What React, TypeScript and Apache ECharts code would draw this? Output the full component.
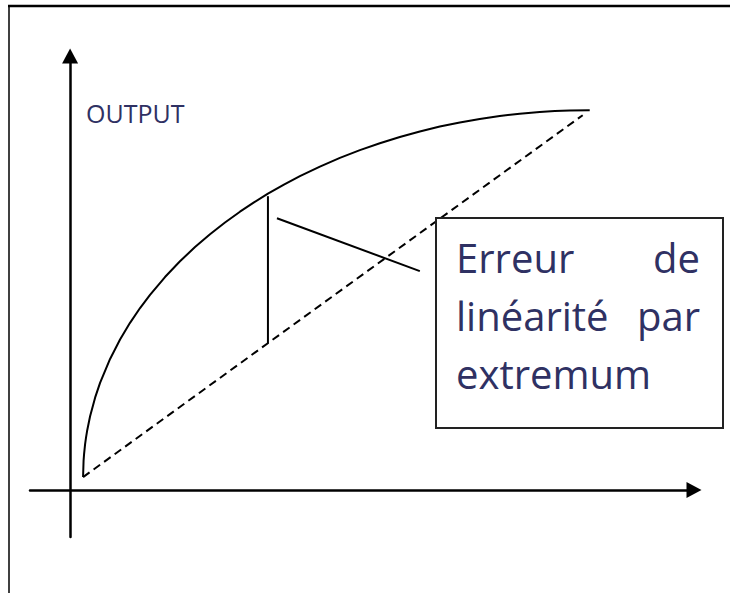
import React, { useEffect, useRef } from "react";
import * as echarts from "echarts";

// Curve (INPUT units on x, OUTPUT units on y)
const curveInput = [2.59, 2.69, 2.79, 2.99, 3.19, 3.39, 3.99, 4.99, 5.98, 7.98, 9.97, 11.96, 13.96, 15.95, 18.94, 21.93, 24.93, 27.92, 30.91, 33.9, 36.69, 39.48, 42.67, 45.86, 49.85, 53.84, 57.83, 61.81, 65.8, 69.79, 73.78, 77.77, 81.75, 85.74, 89.73, 93.72, 96.71, 99.7, 103.69];
const curveOutput = [2.66, 5.99, 7.36, 9.33, 10.82, 12.07, 15.09, 18.9, 21.92, 26.83, 30.8, 34.21, 37.24, 39.94, 43.58, 46.81, 49.71, 52.35, 54.74, 56.95, 58.85, 60.63, 62.5, 64.21, 66.18, 67.96, 69.55, 70.96, 72.23, 73.37, 74.36, 75.19, 75.93, 76.52, 76.99, 77.34, 77.53, 77.65, 77.71];

// Straight line joining the extremities (dashed)
const lineInput = [2.59, 102.29];
const lineOutput = [2.66, 76.69];

// Vertical segment showing the maximal deviation
const errorInput = [39.48, 39.48];
const errorOutput = [60.12, 30.06];

// Pointer from the annotation box to the error
const pointerInput = [41.28, 69.79];
const pointerOutput = [55.62, 44.79];

const axisTitle = "OUTPUT";
const boxLines = [
  ["Erreur", "de"],
  ["linéarité", "par"],
  ["extremum", ""],
];

const zip = (xs: number[], ys: number[]) => xs.map((x, i) => [x, ys[i]]);

export default function App() {
  const ref = useRef<HTMLDivElement>(null);
  useEffect(() => {
    if (!ref.current) return;
    const chart = echarts.init(ref.current, null, { renderer: "svg" });
    const textColor = "#2f3163";
    const font = "Open Sans";
    const boxTextY = [257, 315, 373];
    const graphics: any[] = [
      // frame
      { type: "line", z: 100, shape: { x1: 8, y1: 6, x2: 730, y2: 6 }, style: { stroke: "#000", lineWidth: 2.5 } },
      { type: "line", z: 100, shape: { x1: 9, y1: 5, x2: 9, y2: 593 }, style: { stroke: "#000", lineWidth: 1.5 } },
      // axis title
      {
        type: "text", z: 100, x: 86, y: 113,
        style: { text: axisTitle, fill: textColor, font: `25px "${font}"`, verticalAlign: "middle", align: "left" },
      },
      // annotation box
      {
        type: "rect", z: 100, shape: { x: 436, y: 218, width: 287, height: 210 },
        style: { fill: "#fff", stroke: "#222", lineWidth: 2 },
      },
    ];
    boxLines.forEach((pair, i) => {
      graphics.push({
        type: "text", z: 101, x: 456, y: boxTextY[i],
        style: { text: pair[0], fill: textColor, font: `40px "${font}"`, verticalAlign: "middle", align: "left" },
      });
      if (pair[1]) {
        graphics.push({
          type: "text", z: 101, x: 700, y: boxTextY[i],
          style: { text: pair[1], fill: textColor, font: `40px "${font}"`, verticalAlign: "middle", align: "right" },
        });
      }
    });

    const axisLine = {
      show: true,
      onZero: true,
      symbol: ["none", "triangle"],
      symbolSize: [16, 15],
      lineStyle: { color: "#000", width: 2.5 },
    };

    chart.setOption({
      animation: false,
      backgroundColor: "#fff",
      textStyle: { fontFamily: font },
      grid: { left: 30, top: 56, width: 664, height: 481, containLabel: false },
      xAxis: {
        type: "value", min: -8, max: 124.5,
        axisLine, axisTick: { show: false }, axisLabel: { show: false }, splitLine: { show: false },
      },
      yAxis: {
        type: "value", min: -9.6, max: 88.8,
        axisLine, axisTick: { show: false }, axisLabel: { show: false }, splitLine: { show: false },
      },
      series: [
        {
          type: "line", data: zip(curveInput, curveOutput), symbol: "none", smooth: false,
          lineStyle: { color: "#000", width: 2 }, silent: true,
        },
        {
          type: "line", data: zip(lineInput, lineOutput), symbol: "none",
          lineStyle: { color: "#000", width: 2, type: [8, 5] }, silent: true,
        },
        {
          type: "line", data: zip(errorInput, errorOutput), symbol: "none",
          lineStyle: { color: "#000", width: 2 }, silent: true,
        },
        {
          type: "line", data: zip(pointerInput, pointerOutput), symbol: "none",
          lineStyle: { color: "#000", width: 2 }, silent: true,
        },
      ],
      graphic: graphics,
    });
    return () => chart.dispose();
  }, []);
  return <div ref={ref} style={{ position: "fixed", left: 0, top: 0, width: 730, height: 593 }} />;
}
